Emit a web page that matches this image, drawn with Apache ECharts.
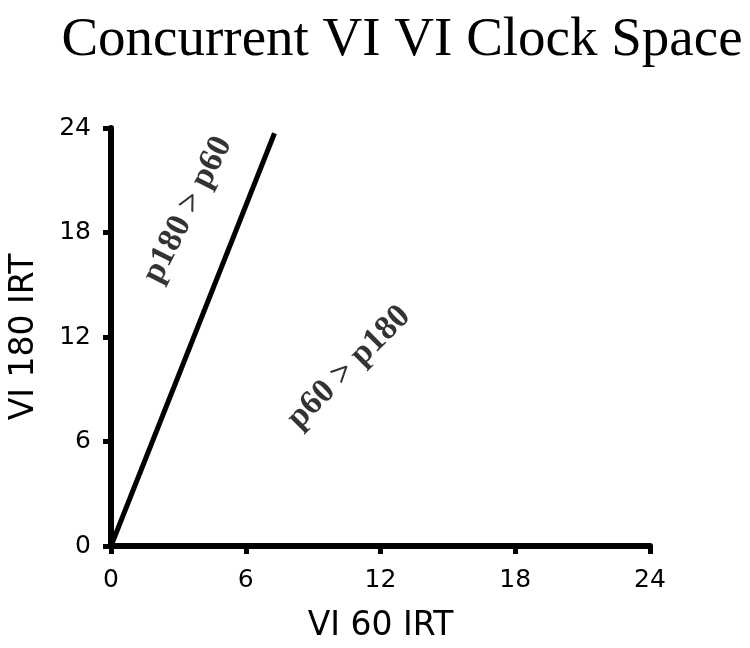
<html>
    <head>
        <meta charset='utf-8'>
        <title>Concurrent VI VI Clock Space</title>
        <script type="text/javascript" src="https://cdn.jsdelivr.net/npm/echarts@6/dist/echarts.min.js"></script>
        <style>
            body { margin: 0; background: #fff; }
            #main_chart { width: 750px; height: 648px; }
        </style>
    </head>
    <body>
        <div id="main_chart"></div>
    </body>
    <script type="text/javascript">
        // axis ticks (both axes the same)
        var tick_values = [0, 6, 12, 18, 24];
        // the boundary line: VI 60 IRT vs VI 180 IRT
        var boundary_x = [0, 7.28];
        var boundary_y = [0, 23.7];
        // region labels, placed at data coordinates
        var region_names = ['p180 > p60', 'p60 > p180'];
        var region_x = [3.42, 10.6];
        var region_y = [19.3, 10.25];
        var region_angle = [63, 45];

        var line_data = [];
        boundary_x.forEach(function(x, i) {
            line_data.push([x, boundary_y[i]]);
        });
        var label_data = [];
        region_names.forEach(function(name, i) {
            label_data.push({
                value: [region_x[i], region_y[i]],
                name: name,
                label: {rotate: region_angle[i]}
            });
        });

        var axis_common = {
            type: 'value',
            min: tick_values[0],
            max: tick_values[tick_values.length - 1],
            interval: 6,
            splitLine: {show: false},
            axisLine: {show: true, lineStyle: {color: '#000', width: 6}},
            axisTick: {show: true, inside: false, length: 8, lineStyle: {color: '#000', width: 5}},
            nameLocation: 'middle',
            nameTextStyle: {fontFamily: 'DejaVu Sans', fontSize: 33, color: '#000'},
            axisLabel: {fontFamily: 'DejaVu Sans', fontSize: 25, color: '#000'}
        };

        var chart = echarts.init(document.getElementById('main_chart'));
        var option = {
            animation: false,
            title: {
                text: 'Concurrent VI VI Clock Space',
                left: 397,
                textAlign: 'center',
                top: 8,
                textStyle: {fontFamily: 'Liberation Serif', fontSize: 55, fontWeight: 'normal', color: '#000'}
            },
            grid: {left: 109, right: 100, top: 128, bottom: 101},
            xAxis: Object.assign({}, axis_common, {
                name: 'VI 60 IRT',
                nameGap: 64,
                axisLabel: Object.assign({}, axis_common.axisLabel, {margin: 22})
            }),
            yAxis: Object.assign({}, axis_common, {
                name: 'VI 180 IRT',
                nameGap: 70,
                axisLabel: Object.assign({}, axis_common.axisLabel, {margin: 20})
            }),
            series: [
                {
                    type: 'line',
                    data: line_data,
                    symbol: 'none',
                    lineStyle: {color: '#000', width: 5, cap: 'butt'}
                },
                {
                    type: 'scatter',
                    data: label_data,
                    symbolSize: 1,
                    itemStyle: {color: 'rgba(0,0,0,0)'},
                    label: {
                        show: true,
                        position: 'inside',
                        formatter: '{b}',
                        fontFamily: 'Liberation Serif',
                        fontWeight: 'bold',
                        fontSize: 34,
                        color: '#000'
                    }
                }
            ]
        };
        chart.setOption(option);
    </script>
</html>
